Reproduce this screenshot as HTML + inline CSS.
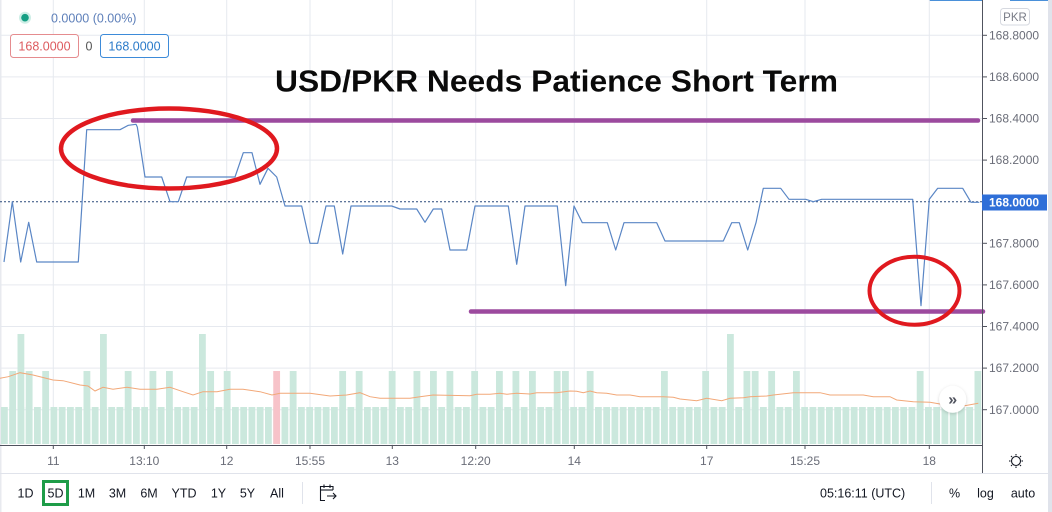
<!DOCTYPE html>
<html><head><meta charset="utf-8"><style>
html,body{margin:0;padding:0;background:#fff;}
body{width:1052px;height:512px;overflow:hidden;}
svg{display:block;font-family:"Liberation Sans",sans-serif;}
</style></head><body>
<svg width="1052" height="512" viewBox="0 0 1052 512" xmlns="http://www.w3.org/2000/svg">
<defs>
<pattern id="vb" x="1" y="0" width="8.25" height="512" patternUnits="userSpaceOnUse"><rect x="0" y="0" width="6.8" height="512" fill="#cbe8dd"/></pattern>
<filter id="sh" x="-50%" y="-50%" width="200%" height="200%"><feDropShadow dx="0" dy="1" stdDeviation="1.5" flood-color="#000" flood-opacity="0.18"/></filter>
</defs>
<rect width="1052" height="512" fill="#fff"/>
<rect x="1048" y="0" width="4" height="512" fill="#e0e3eb"/>
<rect x="0" y="0" width="1.5" height="512" fill="#e8eaef"/>
<line x1="929" y1="0.5" x2="982" y2="0.5" stroke="#4a90d9" stroke-width="1"/>
<line x1="1010" y1="0.5" x2="1048" y2="0.5" stroke="#4a90d9" stroke-width="1"/>
<!-- grid -->
<g stroke="#e6e9ef" stroke-width="1">
<line x1="0" y1="35.3" x2="982" y2="35.3"/><line x1="0" y1="76.9" x2="982" y2="76.9"/><line x1="0" y1="118.5" x2="982" y2="118.5"/><line x1="0" y1="160.1" x2="982" y2="160.1"/><line x1="0" y1="243.3" x2="982" y2="243.3"/><line x1="0" y1="284.9" x2="982" y2="284.9"/><line x1="0" y1="326.5" x2="982" y2="326.5"/><line x1="0" y1="368.1" x2="982" y2="368.1"/><line x1="0" y1="409.7" x2="982" y2="409.7"/>
<line x1="53.3" y1="0" x2="53.3" y2="445"/><line x1="144.3" y1="0" x2="144.3" y2="445"/><line x1="226.7" y1="0" x2="226.7" y2="445"/><line x1="310" y1="0" x2="310" y2="445"/><line x1="392.3" y1="0" x2="392.3" y2="445"/><line x1="475.7" y1="0" x2="475.7" y2="445"/><line x1="574.3" y1="0" x2="574.3" y2="445"/><line x1="706.7" y1="0" x2="706.7" y2="445"/><line x1="805" y1="0" x2="805" y2="445"/><line x1="929.3" y1="0" x2="929.3" y2="445"/>
</g>
<!-- volume -->
<rect x="0" y="407" width="982" height="37" fill="url(#vb)"/>
<g fill="#cbe8dd">
<rect x="17.5" y="334" width="6.8" height="110"/><rect x="100" y="334" width="6.8" height="110"/><rect x="199" y="334" width="6.8" height="110"/><rect x="727" y="334" width="6.8" height="110"/>
<rect x="9.25" y="371" width="6.8" height="73"/><rect x="25.75" y="371" width="6.8" height="73"/><rect x="42.25" y="371" width="6.8" height="73"/><rect x="83.5" y="371" width="6.8" height="73"/><rect x="124.75" y="371" width="6.8" height="73"/><rect x="149.5" y="371" width="6.8" height="73"/><rect x="166" y="371" width="6.8" height="73"/><rect x="207.25" y="371" width="6.8" height="73"/><rect x="223.75" y="371" width="6.8" height="73"/><rect x="289.75" y="371" width="6.8" height="73"/><rect x="339.25" y="371" width="6.8" height="73"/><rect x="355.75" y="371" width="6.8" height="73"/><rect x="388.75" y="371" width="6.8" height="73"/><rect x="413.5" y="371" width="6.8" height="73"/><rect x="430" y="371" width="6.8" height="73"/><rect x="446.5" y="371" width="6.8" height="73"/><rect x="471.25" y="371" width="6.8" height="73"/><rect x="496" y="371" width="6.8" height="73"/><rect x="512.5" y="371" width="6.8" height="73"/><rect x="529" y="371" width="6.8" height="73"/><rect x="553.75" y="371" width="6.8" height="73"/><rect x="562" y="371" width="6.8" height="73"/><rect x="586.75" y="371" width="6.8" height="73"/><rect x="661" y="371" width="6.8" height="73"/><rect x="702.25" y="371" width="6.8" height="73"/><rect x="743.5" y="371" width="6.8" height="73"/><rect x="751.75" y="371" width="6.8" height="73"/><rect x="768.25" y="371" width="6.8" height="73"/><rect x="793" y="371" width="6.8" height="73"/><rect x="916.75" y="371" width="6.8" height="73"/><rect x="974.5" y="371" width="6.8" height="73"/>
</g>
<rect x="273.25" y="371" width="6.8" height="73" fill="#f7c3c9"/>
<polyline fill="none" stroke="#f2a878" stroke-width="1" points="0,378.3 8.3,376.7 20,372.7 33,375 53,380 63,380.7 80,385 88,386 95,391 103,387.3 113,389.3 127,387.3 140,389.3 157,389.3 170,387.3 183,391.7 193,395 203,391.7 217,391.7 230,389.3 243,389.3 260,391.7 272,395 280,393.3 310,393.3 330,396 346.7,395 360,392.7 370,396.7 380,398.3 410,398.3 420,396.7 433,395 470,395.7 476.7,394.3 490,394.3 500,393.3 506.7,394.3 516.7,393.3 530,394 536.7,392.7 556.7,392.7 570,391 576.7,391.3 583.3,392.7 590,391 596.7,392.7 606.7,393.3 616.7,395 630,395 640,396.7 663.3,396.7 673.3,397.3 680,399 696.7,400.7 706.7,398.3 721.7,400.7 730,398.3 743.3,397.7 750,396.7 766.7,396 773.3,395 793.3,392.7 820,392.7 830,395 863.3,395 873.3,396.7 890,396.7 896.7,400 913.3,401.7 930,402.3 940,404 953.3,406 963.3,406 978.3,403.3"/>
<!-- dotted last price -->
<line x1="0" y1="201.7" x2="982" y2="201.7" stroke="#2b4a7c" stroke-width="1" stroke-dasharray="2 2"/>
<!-- price line -->
<polyline fill="none" stroke="#5a86c5" stroke-width="1.2" stroke-linejoin="round" points="4,262 12.3,201.7 20.7,262 28.7,222.3 36.7,262 78.3,262 86.7,129.7 120,129.7 128.3,125.3 136,124.3 137.3,127 145,177 161.7,177 170,201.7 178.3,201.7 186.7,177 235,177 243.3,152.7 252,152.7 260,184.3 268,168.3 276.7,177 285,206 301.7,206 310,243.3 317.7,243.3 326,206 334.3,206 342.7,254 351,206 391.7,206 400,209 416.7,209 425,222.3 433.3,209 441.7,209 450,250 466.7,250 475,206 508.3,206 516.7,264.3 525,206 557.3,206 565.7,285.7 574,206 582.3,222.7 607.3,222.7 615.7,250 624,222.7 656.7,222.7 665,241 723.3,241 731.7,222.7 739.3,222.7 747.7,250 756,222.7 763.3,188.3 780.7,188.3 789,199.3 805.7,199.3 813.3,201.7 821.7,199.3 912.7,199.3 921,305.7 929.3,199.3 937.7,188.3 962.7,188.3 971,202.3 979.3,202.3"/>
<!-- purple lines -->
<line x1="133" y1="120.5" x2="978" y2="120.5" stroke="#9c4a9e" stroke-width="4.5" stroke-linecap="round"/>
<line x1="471" y1="311.5" x2="983" y2="311.5" stroke="#9c4a9e" stroke-width="4.5" stroke-linecap="round"/>
<!-- red ellipses -->
<ellipse cx="169" cy="148.5" rx="108" ry="40" fill="none" stroke="#e0191f" stroke-width="4.5"/>
<ellipse cx="914.5" cy="290.7" rx="45" ry="34" fill="none" stroke="#e0191f" stroke-width="4"/>
<!-- title -->
<text x="275" y="91.5" font-size="31" font-weight="bold" fill="#0a0a0a" textLength="563" lengthAdjust="spacingAndGlyphs">USD/PKR Needs Patience Short Term</text>
<!-- scroll button -->
<circle cx="952.7" cy="399.3" r="13.5" fill="#fff" filter="url(#sh)"/>
<text x="952.7" y="404.5" font-size="16" font-weight="bold" fill="#50535e" text-anchor="middle">»</text>
<!-- axes -->
<line x1="982.5" y1="0" x2="982.5" y2="473" stroke="#50535e" stroke-width="1"/>
<line x1="0" y1="445.5" x2="982" y2="445.5" stroke="#50535e" stroke-width="1"/>
<line x1="0" y1="473.5" x2="1048" y2="473.5" stroke="#e0e3eb" stroke-width="1"/>
<g stroke="#50535e" stroke-width="1">
<line x1="982" y1="35.3" x2="987" y2="35.3"/><line x1="982" y1="76.9" x2="987" y2="76.9"/><line x1="982" y1="118.5" x2="987" y2="118.5"/><line x1="982" y1="160.1" x2="987" y2="160.1"/><line x1="982" y1="243.3" x2="987" y2="243.3"/><line x1="982" y1="284.9" x2="987" y2="284.9"/><line x1="982" y1="326.5" x2="987" y2="326.5"/><line x1="982" y1="368.1" x2="987" y2="368.1"/><line x1="982" y1="409.7" x2="987" y2="409.7"/>
<line x1="53.3" y1="445" x2="53.3" y2="449"/><line x1="144.3" y1="445" x2="144.3" y2="449"/><line x1="226.7" y1="445" x2="226.7" y2="449"/><line x1="310" y1="445" x2="310" y2="449"/><line x1="392.3" y1="445" x2="392.3" y2="449"/><line x1="475.7" y1="445" x2="475.7" y2="449"/><line x1="574.3" y1="445" x2="574.3" y2="449"/><line x1="706.7" y1="445" x2="706.7" y2="449"/><line x1="805" y1="445" x2="805" y2="449"/><line x1="929.3" y1="445" x2="929.3" y2="449"/>
</g>
<g font-size="12" fill="#6a6d78">
<text x="989" y="39.5">168.8000</text><text x="989" y="81">168.6000</text><text x="989" y="122.5">168.4000</text><text x="989" y="164">168.2000</text><text x="989" y="247.5">167.8000</text><text x="989" y="289">167.6000</text><text x="989" y="330.5">167.4000</text><text x="989" y="372">167.2000</text><text x="989" y="414">167.0000</text>
</g>
<rect x="982" y="194.5" width="65" height="16" fill="#2f6fd8"/>
<text x="989" y="206.5" font-size="12" font-weight="bold" fill="#fff">168.0000</text>
<rect x="1000.5" y="8.5" width="29" height="16.5" rx="3" fill="#fff" stroke="#d6d9e0"/>
<text x="1015" y="21" font-size="11.5" fill="#787b86" text-anchor="middle">PKR</text>
<g font-size="12" fill="#6a6d78" text-anchor="middle">
<text x="53.3" y="465">11</text><text x="144.3" y="465">13:10</text><text x="226.7" y="465">12</text><text x="310" y="465">15:55</text><text x="392.3" y="465">13</text><text x="475.7" y="465">12:20</text><text x="574.3" y="465">14</text><text x="706.7" y="465">17</text><text x="805" y="465">15:25</text><text x="929.3" y="465">18</text>
</g>
<!-- settings icon -->
<g stroke="#131722" stroke-width="1.1" fill="none">
<circle cx="1016" cy="461" r="4.5"/>
<line x1="1016" y1="454" x2="1016" y2="455.5"/><line x1="1016" y1="466.5" x2="1016" y2="468"/><line x1="1009" y1="461" x2="1010.5" y2="461"/><line x1="1021.5" y1="461" x2="1023" y2="461"/>
<line x1="1011" y1="456" x2="1012" y2="457"/><line x1="1020" y1="465" x2="1021" y2="466"/><line x1="1011" y1="466" x2="1012" y2="465"/><line x1="1020" y1="457" x2="1021" y2="456"/>
</g>
<!-- top-left legend -->
<circle cx="25" cy="17.7" r="6" fill="#cdeee6"/>
<circle cx="25" cy="17.7" r="3.8" fill="#159f84"/>
<text x="51" y="22.5" font-size="12.5" fill="#5d7fb9">0.0000 (0.00%)</text>
<rect x="10.5" y="34.5" width="68" height="23" rx="3" fill="#fff" stroke="#e58c8f"/>
<text x="44.5" y="50.5" font-size="12.5" fill="#dd5a5e" text-anchor="middle">168.0000</text>
<text x="89" y="50.5" font-size="12.5" fill="#555" text-anchor="middle">0</text>
<rect x="100.5" y="34.5" width="68" height="23" rx="3" fill="#fff" stroke="#3d8bd9"/>
<text x="134.5" y="50.5" font-size="12.5" fill="#2a7ac9" text-anchor="middle">168.0000</text>
<!-- toolbar -->
<rect x="43.5" y="481.5" width="24" height="23" fill="#fff" stroke="#1e9c48" stroke-width="3"/>
<g font-size="12.5" fill="#131722" text-anchor="middle">
<text x="25.5" y="497.5">1D</text><text x="55.5" y="497.5">5D</text><text x="86.5" y="497.5">1M</text><text x="117.5" y="497.5">3M</text><text x="149" y="497.5">6M</text><text x="184" y="497.5">YTD</text><text x="218.5" y="497.5">1Y</text><text x="247.5" y="497.5">5Y</text><text x="277" y="497.5">All</text>
<text x="954.5" y="497.5">%</text><text x="985.5" y="497.5">log</text><text x="1023" y="497.5">auto</text>
</g>
<text x="820" y="497.5" font-size="12.5" fill="#131722">05:16:11 (UTC)</text>
<line x1="302.5" y1="482" x2="302.5" y2="504" stroke="#e0e3eb"/>
<line x1="931.5" y1="482" x2="931.5" y2="504" stroke="#e0e3eb"/>
<g stroke="#131722" stroke-width="1.1" fill="none">
<path d="M333 490 V486.5 H320.5 V500.5 H325"/>
<line x1="320.5" y1="490" x2="333" y2="490"/>
<line x1="324" y1="484.5" x2="324" y2="488"/><line x1="330" y1="484.5" x2="330" y2="488"/>
<path d="M327 496 H336 M333 493 L336 496 L333 499"/>
</g>
</svg>
</body></html>
